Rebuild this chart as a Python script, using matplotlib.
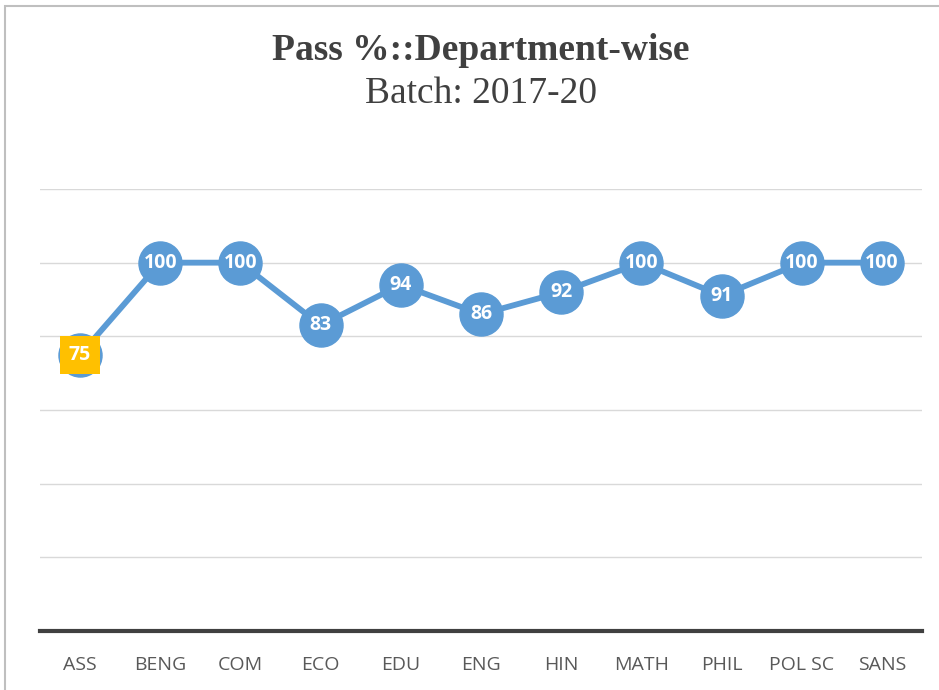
import matplotlib.pyplot as plt
from matplotlib.patches import Rectangle

# --- Pass % by department, batch 2017-20 ---

departments = ['ASS', 'BENG', 'COM', 'ECO', 'EDU', 'ENG', 'HIN', 'MATH', 'PHIL', 'POL SC', 'SANS']
pass_pct = [75, 100, 100, 83, 94, 86, 92, 100, 91, 100, 100]
highlight = 'ASS'  # label drawn in a yellow box

W, H, DPI = 939, 690, 100
fig = plt.figure(figsize=(W / DPI, H / DPI), dpi=DPI)

# axes placed in pixel terms
left, right, top, bottom = 40, 922, 189, 631
ax = fig.add_axes([left / W, 1 - bottom / H, (right - left) / W, (bottom - top) / H])

x = list(range(len(departments)))
ax.plot(x, pass_pct, color='#5B9BD5', linewidth=4.2, marker='o',
        markersize=31, markerfacecolor='#5B9BD5', markeredgecolor='#5B9BD5',
        zorder=3, clip_on=False)

for xi, name, val in zip(x, departments, pass_pct):
    if name == highlight:
        ax.text(xi, val, str(val), ha='center', va='center', color='white',
                fontsize=14, fontweight='bold', family='Open Sans', zorder=5,
                bbox=dict(boxstyle='square,pad=0.45', facecolor='#FFC000',
                          edgecolor='none'))
    else:
        ax.text(xi, val, str(val), ha='center', va='center', color='white',
                fontsize=14, fontweight='bold', family='Open Sans', zorder=5)

ax.set_xlim(-0.5, len(departments) - 0.5)
ax.set_ylim(0, 120)
ax.set_yticks(range(20, 121, 20))
ax.yaxis.grid(True, color='#d9d9d9', linewidth=1)
ax.set_axisbelow(True)
ax.tick_params(axis='y', length=0, labelleft=False)
ax.set_xticks(x)
ax.set_xticklabels(departments, fontsize=14, color='#595959', family='Open Sans')
ax.tick_params(axis='x', length=0, pad=18)
for side in ['top', 'right', 'left']:
    ax.spines[side].set_visible(False)
ax.spines['bottom'].set_color('#404040')
ax.spines['bottom'].set_linewidth(3)

# titles
fig.text(481 / W, 1 - 50 / H, 'Pass %::Department-wise', ha='center', va='center',
         fontsize=27, fontweight='bold', family='Liberation Serif', color='#404040')
fig.text(481 / W, 1 - 94 / H, 'Batch: 2017-20', ha='center', va='center',
         fontsize=27, family='Liberation Serif', color='#404040')

# chart frame (only top and left edges visible)
fig.patches.append(Rectangle((5 / W, -0.1), 1.2, 1.1 - 6 / H, transform=fig.transFigure,
                             fill=False, edgecolor='#bfbfbf', linewidth=1.5))

fig.savefig('out.png', dpi=DPI)
